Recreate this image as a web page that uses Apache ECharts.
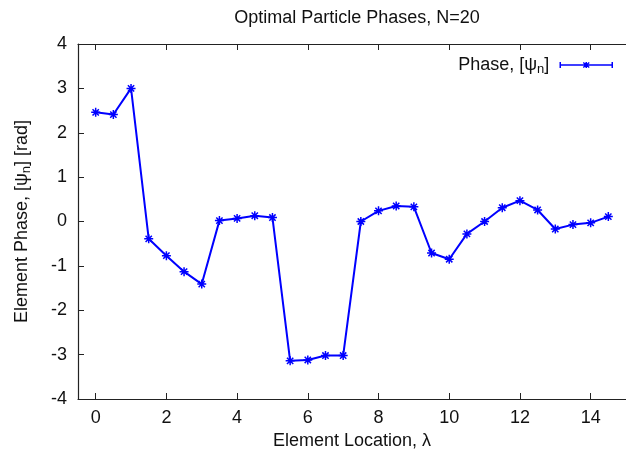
<!DOCTYPE html>
<html>
<head>
<meta charset="utf-8">
<script src="https://cdn.jsdelivr.net/npm/echarts@6/dist/echarts.min.js"></script>
<style>
  html, body { margin: 0; padding: 0; background: #ffffff; }
  #chart { width: 626px; height: 461px; }
</style>
</head>
<body>
<div id="chart"></div>
<script>
// Element locations (in wavelengths) and the optimal phase of each element
const locations = [0, 0.5, 1, 1.5, 2, 2.5, 3, 3.5, 4, 4.5, 5, 5.5, 6, 6.5, 7,
                   7.5, 8, 8.5, 9, 9.5, 10, 10.5, 11, 11.5, 12, 12.5, 13, 13.5, 14, 14.5];
const phases = [2.46, 2.41, 3.00, -0.39, -0.77, -1.13, -1.41, 0.02, 0.07, 0.13,
                0.09, -3.14, -3.12, -3.02, -3.02, 0.00, 0.24, 0.35, 0.33, -0.71,
                -0.85, -0.28, 0.00, 0.31, 0.47, 0.26, -0.17, -0.07, -0.03, 0.11];
const xTicks = [0, 2, 4, 6, 8, 10, 12, 14];
const yTicks = [-4, -3, -2, -1, 0, 1, 2, 3, 4];

const FONT = '"Liberation Sans", Arial, Helvetica, sans-serif';
const FS = 18;
const INK = '#111111';
const FRAME = '#222222';
const BLUE = '#0000ff';

// star marker: horizontal, vertical and two diagonal strokes
const STAR = 'path://M0,5L10,5M5,0L5,10M1.5,1.5L8.5,8.5M8.5,1.5L1.5,8.5';
// legend sample: line with end caps and a small star in the middle
const LEGEND_ICON = 'path://M0,4L52,4M0,1L0,7M52,1L52,7M23,1.5L29,6.5M23,6.5L29,1.5M26,1L26,7M23,4L29,4';

const richBase = {
  a: { fontFamily: FONT, fontSize: FS, color: INK },
  s: { fontFamily: FONT, fontSize: 13, color: INK, padding: [8, 0, 0, 0] }
};

const chart = echarts.init(document.getElementById('chart'), null, { renderer: 'canvas' });

chart.setOption({
  animation: false,
  backgroundColor: '#ffffff',
  title: {
    text: 'Optimal Particle Phases, N=20',
    left: 352, top: 4,
    textAlign: 'center',
    textStyle: { fontFamily: FONT, fontSize: FS, fontWeight: 'normal', color: INK }
  },
  legend: {
    right: 8, top: 51,
    align: 'right',
    itemWidth: 52, itemHeight: 8,
    itemGap: 0,
    icon: LEGEND_ICON,
    itemStyle: { color: BLUE, borderColor: BLUE, borderWidth: 1.5 },
    formatter: () => '{a|Phase, [ψ}{s|n}{a|]}',
    textStyle: { rich: richBase, padding: [0, 6, 0, 0] },
    data: ['Phase']
  },
  grid: { left: 78, top: 44, width: 555.5, height: 355, containLabel: false },
  xAxis: [{
    type: 'value', min: -0.5, max: 15,
    position: 'bottom',
    axisLine: { show: true, onZero: false, lineStyle: { color: FRAME, width: 1.2 } },
    axisTick: { show: true, inside: true, length: 6, customValues: xTicks, lineStyle: { color: FRAME, width: 1 } },
    axisLabel: { customValues: xTicks, margin: 10, fontFamily: FONT, fontSize: FS, color: INK },
    splitLine: { show: false },
    name: 'Element Location, λ',
    nameLocation: 'middle', nameGap: 33,
    nameTextStyle: { fontFamily: FONT, fontSize: FS, color: INK }
  }, {
    // mirrored ticks along the top edge of the frame
    type: 'value', min: -0.5, max: 15,
    position: 'top',
    axisLine: { show: true, onZero: false, lineStyle: { color: FRAME, width: 1.2 } },
    axisTick: { show: true, inside: true, length: 6, customValues: xTicks, lineStyle: { color: FRAME, width: 1 } },
    axisLabel: { show: false },
    splitLine: { show: false }
  }],
  yAxis: {
    type: 'value', min: -4, max: 4, interval: 1,
    axisLine: { show: true, onZero: false, lineStyle: { color: FRAME, width: 1.2 } },
    axisTick: { show: true, inside: true, length: 6, lineStyle: { color: FRAME, width: 1 } },
    axisLabel: {
      margin: 11, fontFamily: FONT, fontSize: FS, color: INK,
      formatter: v => (yTicks.includes(v) ? String(v) : '')
    },
    splitLine: { show: false },
    name: '{a|Element Phase, [ψ}{s|n}{a|] [rad]}',
    nameLocation: 'middle', nameGap: 45,
    nameTextStyle: { rich: richBase }
  },
  series: [{
    name: 'Phase',
    type: 'line',
    data: locations.map((x, i) => [x, phases[i]]),
    symbol: STAR,
    symbolSize: 9,
    showAllSymbol: true,
    lineStyle: { color: BLUE, width: 2 },
    itemStyle: { color: BLUE, borderColor: BLUE, borderWidth: 1.5 },
    emphasis: { disabled: true }
  }]
});
</script>
</body>
</html>
